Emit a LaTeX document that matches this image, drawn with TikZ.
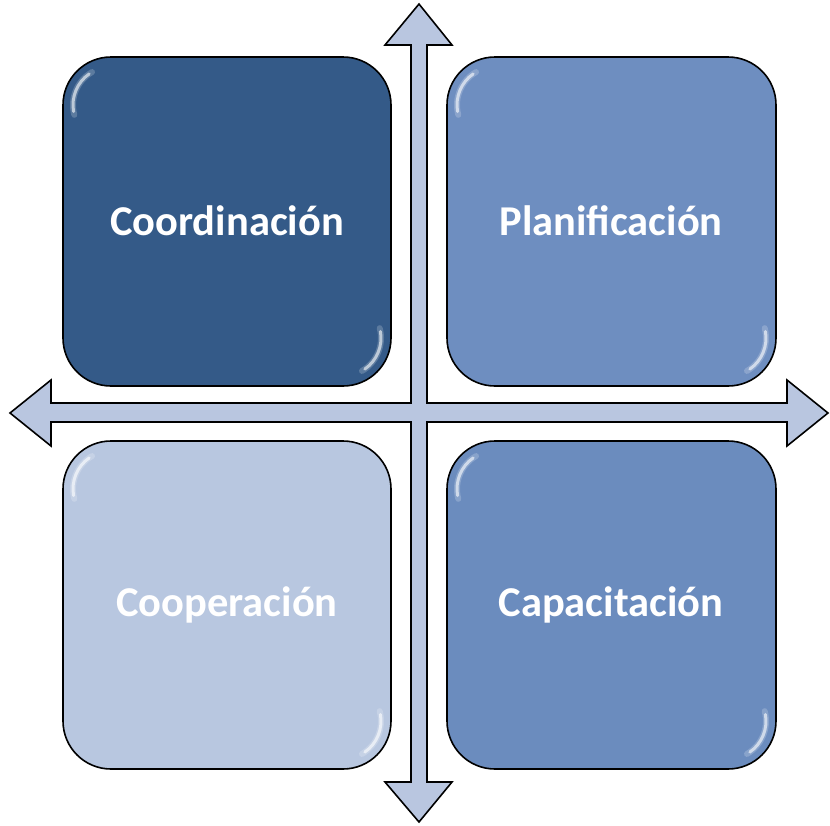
\documentclass[tikz,border=0pt]{standalone}
\usepackage{fontspec}
\setmainfont{Carlito}
\definecolor{boxA}{HTML}{345A88}
\definecolor{boxB}{HTML}{6E8EC0}
\definecolor{boxC}{HTML}{B8C7E0}
\definecolor{boxD}{HTML}{6B8CBE}
\definecolor{arrowfill}{HTML}{B9C6E0}
\begin{document}
\begin{tikzpicture}[x=1pt,y=-1pt,
  quad/.style={draw=black, line width=1.6pt, rounded corners=48pt, fill=#1},
  lbl/.style={text=white, font=\fontsize{42.5}{48}\selectfont\bfseries},
  shine/.style={draw=white, line width=3pt, opacity=0.6, line cap=round},
  shinesoft/.style={draw=white, line width=6pt, opacity=0.2, line cap=round},
  cross/.style={draw=black, line width=1.6pt, fill=arrowfill, line join=miter}]
\useasboundingbox (0,0) rectangle (830,825);
\fill[white] (0,0) rectangle (830,825);
% cross of double arrows (union outline)
\draw[cross] (419,4) -- (452,45) -- (427,45) -- (427,403) -- (787,403) -- (787,380) -- (828,413) -- (787,446) -- (787,422) -- (427,422) -- (427,782) -- (452,782) -- (419,822) -- (385,782) -- (411,782) -- (411,422) -- (51,422) -- (51,446) -- (10,413) -- (51,380) -- (51,403) -- (411,403) -- (411,45) -- (385,45) -- cycle;
% boxes
\draw[quad=boxA] (63,57) rectangle (391,386);
\draw[quad=boxB] (447,57) rectangle (776,386);
\draw[quad=boxC] (63,441) rectangle (391,769);
\draw[quad=boxD] (447,441) rectangle (776,769);
% highlights
\foreach \x/\y/\X/\Y in {63/57/391/386, 447/57/776/386, 63/441/391/769, 447/441/776/769}{
  \draw[shinesoft] ({\x+48+38*cos(240)},{\y+48+38*sin(240)}) arc[start angle=240, end angle=165, radius=38];
  \draw[shine] ({\x+48+38*cos(235)},{\y+48+38*sin(235)}) arc[start angle=235, end angle=170, radius=38];
  \draw[shinesoft] ({\X-48+38*cos(-15)},{\Y-48+38*sin(-15)}) arc[start angle=-15, end angle=60, radius=38];
  \draw[shine] ({\X-48+38*cos(-10)},{\Y-48+38*sin(-10)}) arc[start angle=-10, end angle=55, radius=38];
}
% labels
\node[lbl] (coord) at (227,221) {Coordinación};
\node[lbl] (plan) at (611,221) {Planificación};
\node[lbl] (coop) at (227,605) {Cooperación};
\node[lbl] (capa) at (611,605) {Capacitación};
\end{tikzpicture}
\end{document}
